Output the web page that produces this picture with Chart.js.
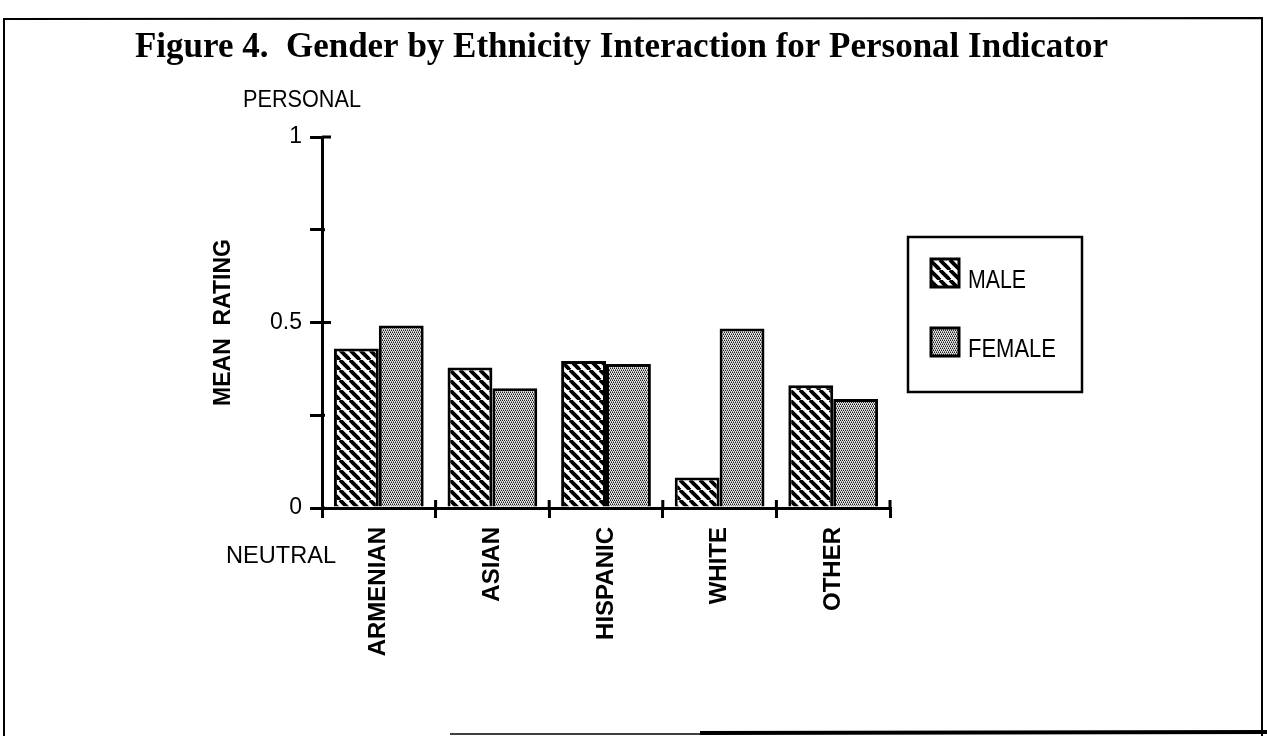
<!DOCTYPE html>
<html>
<head>
<meta charset="utf-8">
<script src="https://cdn.jsdelivr.net/npm/chart.js@4.4.1/dist/chart.umd.min.js"></script>
<style>
html,body{margin:0;padding:0;background:#fff;}
#wrap{width:1267px;height:736px;position:relative;}
</style>
</head>
<body>
<div id="wrap"><canvas id="c" width="1267" height="736"></canvas></div>
<script>
// ---- data ----
const categories = ['ARMENIAN', 'ASIAN', 'HISPANIC', 'WHITE', 'OTHER'];
const maleValues = [0.430, 0.379, 0.396, 0.082, 0.331];
const femaleValues = [0.492, 0.323, 0.388, 0.484, 0.294];
const seriesLabels = ['MALE', 'FEMALE'];
const yTickLabels = { '0': '0', '0.5': '0.5', '1': '1' };
const titleText = 'Figure 4.  Gender by Ethnicity Interaction for Personal Indicator';
const yTopLabel = 'PERSONAL';
const yBottomLabel = 'NEUTRAL';
const yAxisTitle = 'MEAN  RATING';

// ---- fill patterns ----
function hatchPattern() {
  const s = 10;
  const c = document.createElement('canvas');
  c.width = s; c.height = s;
  const g = c.getContext('2d');
  g.fillStyle = '#fff'; g.fillRect(0, 0, s, s);
  g.strokeStyle = '#000'; g.lineWidth = 3.8;
  for (let k = -1; k <= 1; k++) {
    g.beginPath(); g.moveTo(k * s, 0); g.lineTo(k * s + s, s); g.stroke();
  }
  return g.createPattern(c, 'repeat');
}
function stipplePattern() {
  const c = document.createElement('canvas');
  c.width = 4; c.height = 4;
  const g = c.getContext('2d');
  g.fillStyle = '#e4e4e4'; g.fillRect(0, 0, 4, 4);
  g.fillStyle = '#1e1e1e';
  [[0,0],[2,0],[1,2],[3,2]].forEach(p => g.fillRect(p[0], p[1], 1, 1));
  g.fillStyle = '#7a7a7a';
  [[1,1],[3,1],[0,3],[2,3]].forEach(p => g.fillRect(p[0], p[1], 1, 1));
  return g.createPattern(c, 'repeat');
}
const malePattern = hatchPattern();
const femalePattern = stipplePattern();

const SANS = '"Liberation Sans", Arial, Helvetica, sans-serif';
Chart.defaults.font.family = SANS;
Chart.defaults.color = '#000';

function fitText(ctx, text, x, y, font, width) {
  ctx.font = font;
  const w = ctx.measureText(text).width;
  ctx.save();
  ctx.translate(x, y);
  ctx.scale(width / w, 1);
  ctx.fillText(text, 0, 0);
  ctx.restore();
}

// ---- free text, frame and legend ----
const decor = {
  id: 'decor',
  afterDraw(chart) {
    const ctx = chart.ctx;
    ctx.save();
    // frame
    ctx.strokeStyle = '#000';
    ctx.lineWidth = 2;
    ctx.beginPath();
    ctx.moveTo(4, 736); ctx.lineTo(4, 19); ctx.lineTo(1262, 18); ctx.lineTo(1262, 736);
    ctx.stroke();
    ctx.lineWidth = 1.5;
    ctx.beginPath(); ctx.moveTo(450, 734); ctx.lineTo(700, 734); ctx.stroke();
    ctx.lineWidth = 4;
    ctx.beginPath(); ctx.moveTo(700, 733); ctx.lineTo(1267, 732); ctx.stroke();

    // cross-over parts of the tick marks (ticks straddle the axes)
    const xs = chart.scales.x, ys = chart.scales.y;
    ctx.lineWidth = 3;
    ctx.beginPath();
    [0, 0.25, 0.5, 0.75, 1].forEach(v => {
      const py = ys.getPixelForValue(v);
      ctx.moveTo(xs.left, py); ctx.lineTo(xs.left + (v === 1 || v === 0.5 ? 9 : 3), py);
    });
    for (let i = 1; i <= categories.length; i++) {
      const px = (xs.getPixelForValue(i - 1) + xs.getPixelForValue(i)) / 2;
      const qx = i === categories.length ? xs.right : px;
      ctx.moveTo(qx, ys.bottom); ctx.lineTo(qx, ys.bottom - 8);
    }
    ctx.stroke();

    // title
    ctx.fillStyle = '#000';
    ctx.textBaseline = 'alphabetic';
    ctx.textAlign = 'left';
    fitText(ctx, titleText, 135, 57, 'bold 35px "Liberation Serif", "Times New Roman", serif', 973);

    // end labels of value axis
    fitText(ctx, yTopLabel, 243, 107, '24px ' + SANS, 118);
    fitText(ctx, yBottomLabel, 226, 563, '24px ' + SANS, 110);

    // legend box
    ctx.lineWidth = 2.5;
    ctx.strokeRect(908, 237, 174, 155);
    const items = chart.data.datasets;
    const sy = [259, 328];
    const tw = [58, 88];
    items.forEach((ds, i) => {
      ctx.fillStyle = ds.backgroundColor;
      ctx.fillRect(931, sy[i], 28, 28);
      ctx.lineWidth = 3;
      ctx.strokeStyle = '#000';
      ctx.strokeRect(931, sy[i], 28, 28);
      ctx.fillStyle = '#000';
      fitText(ctx, ds.label, 968, sy[i] + 29, '26px ' + SANS, tw[i]);
    });
    ctx.restore();
  }
};

new Chart(document.getElementById('c'), {
  type: 'bar',
  data: {
    labels: categories,
    datasets: [
      { label: seriesLabels[0], data: maleValues, backgroundColor: malePattern,
        borderColor: '#000', borderWidth: 3 },
      { label: seriesLabels[1], data: femaleValues, backgroundColor: femalePattern,
        borderColor: '#000', borderWidth: 3 }
    ]
  },
  options: {
    responsive: false,
    animation: false,
    devicePixelRatio: 1,
    layout: { padding: { left: 210, right: 377, top: 137, bottom: 0 } },
    plugins: {
      legend: { display: false },
      title: { display: false },
      tooltip: { enabled: false }
    },
    datasets: { bar: { categoryPercentage: 0.79, barPercentage: 1.0 } },
    scales: {
      x: {
        afterFit(scale) { scale.height = 228; },
        grid: { display: true, drawOnChartArea: false, drawTicks: true, tickLength: 10,
                color: '#000', lineWidth: 3, offset: true },
        border: { display: true, color: '#000', width: 3 },
        ticks: { autoSkip: false, minRotation: 90, maxRotation: 90, padding: 9,
                 color: '#000', font: { size: 24, weight: 'bold' } }
      },
      y: {
        min: 0, max: 1,
        afterFit(scale) { scale.width = 112; },
        grid: { display: true, drawOnChartArea: false, drawTicks: true, tickLength: 12,
                color: '#000', lineWidth: 3 },
        border: { display: true, color: '#000', width: 3 },
        ticks: {
          stepSize: 0.25, padding: 8, color: '#000', font: { size: 23 },
          callback: (v) => (yTickLabels[String(v)] !== undefined ? yTickLabels[String(v)] : '')
        },
        title: { display: true, text: yAxisTitle, color: '#000',
                 font: { size: 23, weight: 'bold' }, padding: { top: 0, bottom: 0 } }
      }
    }
  },
  plugins: [decor]
});
</script>
</body>
</html>
